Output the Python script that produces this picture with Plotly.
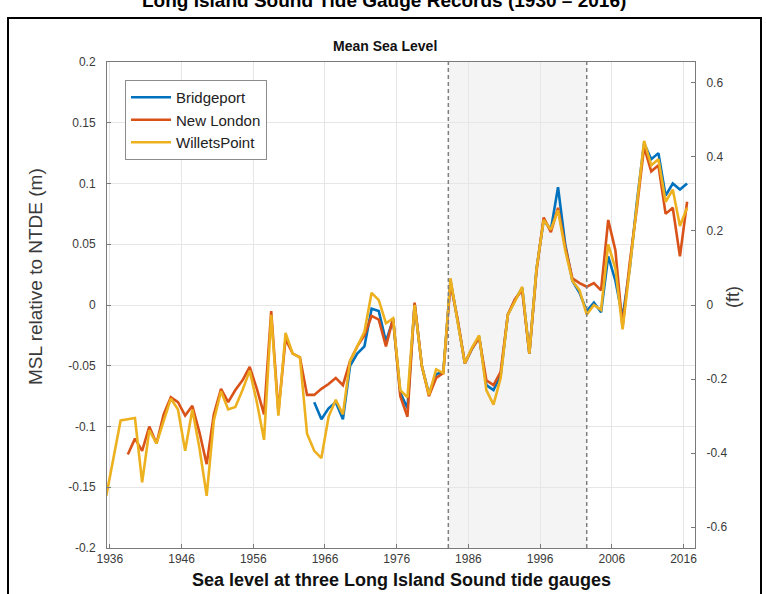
import plotly.graph_objects as go

# ---------------- data (annual mean sea level, m relative to NTDE) ----------------
wp_years = list(range(1935, 2017))
wp_msl = [-0.157, -0.125, -0.095, -0.094, -0.093, -0.146, -0.103, -0.114, -0.095, -0.077,
          -0.086, -0.120, -0.086, -0.118, -0.157, -0.095, -0.071, -0.086, -0.084, -0.070,
          -0.054, -0.080, -0.111, -0.008, -0.091, -0.023, -0.040, -0.043, -0.106, -0.120,
          -0.126, -0.092, -0.078, -0.090, -0.046, -0.034, -0.022, 0.010, 0.004, -0.015,
          -0.011, -0.070, -0.076, 0.000, -0.050, -0.074, -0.053, -0.056, 0.022, -0.014,
          -0.048, -0.035, -0.025, -0.070, -0.082, -0.060, -0.008, 0.003, 0.015, -0.040,
          0.030, 0.070, 0.062, 0.078, 0.045, 0.020, 0.012, -0.008, 0.000, -0.004,
          0.050, 0.030, -0.020, 0.030, 0.080, 0.135, 0.115, 0.120, 0.085, 0.095,
          0.065, 0.080]

nl_years = list(range(1938, 2017))
nl_msl = [-0.123, -0.110, -0.120, -0.100, -0.114, -0.090, -0.076, -0.080, -0.091, -0.083,
          -0.105, -0.131, -0.090, -0.069, -0.080, -0.070, -0.062, -0.051, -0.069, -0.090,
          -0.005, -0.088, -0.028, -0.040, -0.043, -0.074, -0.074, -0.069, -0.065, -0.060,
          -0.066, -0.046, -0.034, -0.025, -0.009, -0.012, -0.034, -0.011, -0.075, -0.092,
          0.002, -0.050, -0.075, -0.060, -0.056, 0.018, -0.012, -0.048, -0.036, -0.027,
          -0.062, -0.066, -0.055, -0.008, 0.005, 0.012, -0.040, 0.028, 0.072, 0.060,
          0.080, 0.048, 0.022, 0.018, 0.015, 0.018, 0.012, 0.070, 0.045, -0.018,
          0.035, 0.080, 0.130, 0.110, 0.115, 0.075, 0.080, 0.040, 0.085]

bp_years = list(range(1964, 2017))
bp_msl = [-0.080, -0.094, -0.085, -0.080, -0.094, -0.050, -0.040, -0.034, -0.003, -0.005,
          -0.030, -0.012, -0.072, -0.085, 0.001, -0.050, -0.073, -0.057, -0.055, 0.020,
          -0.013, -0.048, -0.036, -0.026, -0.066, -0.070, -0.058, -0.008, 0.004, 0.014,
          -0.040, 0.030, 0.070, 0.062, 0.097, 0.050, 0.020, 0.010, -0.005, 0.002,
          -0.006, 0.040, 0.020, -0.010, 0.030, 0.085, 0.133, 0.120, 0.125, 0.090,
          0.100, 0.095, 0.100]

series_names = ["Bridgeport", "New London", "WilletsPoint"]
series_colors = ["#0072BD", "#D95319", "#EDB120"]

ntde_start, ntde_end = 1983.2, 2002.5

x_ticks = [1936, 1946, 1956, 1966, 1976, 1986, 1996, 2006, 2016]
y_ticks = [-0.2, -0.15, -0.1, -0.05, 0, 0.05, 0.1, 0.15, 0.2]
y_ticktext = ["-0.2", "-0.15", "-0.1", "-0.05", "0", "0.05", "0.1", "0.15", "0.2"]
ft_ticks = [-0.6, -0.4, -0.2, 0, 0.2, 0.4, 0.6]
ft_ticktext = ["-0.6", "-0.4", "-0.2", "0", "0.2", "0.4", "0.6"]
M_TO_FT = 3.28084

# ---------------- figure ----------------
W, H = 766, 594
L, R, T, B = 107, 695, 62, 548
FONT = "Liberation Sans"
TXT = "#3a3a3a"


def px(x):
    return (x - L) / (R - L)


def py(y):
    return (B - y) / (B - T)


fig = go.Figure()

for yrs, vals, name, col in zip([bp_years, nl_years, wp_years],
                                [bp_msl, nl_msl, wp_msl],
                                series_names, series_colors):
    fig.add_trace(go.Scatter(x=[yv + 0.5 for yv in yrs], y=vals, mode="lines",
                             name=name, line=dict(color=col, width=2.6)))

# invisible trace to activate the right-hand (feet) axis
fig.add_trace(go.Scatter(x=[wp_years[0] + 0.5], y=[wp_msl[0] * M_TO_FT], yaxis="y2",
                         mode="lines", line=dict(width=0), showlegend=False,
                         hoverinfo="skip", opacity=0))

shapes = [
    dict(type="rect", xref="x", yref="paper", x0=ntde_start, x1=ntde_end, y0=0, y1=1,
         fillcolor="rgba(200,200,200,0.2)", line=dict(width=0), layer="below"),
    dict(type="line", xref="x", yref="paper", x0=ntde_start, x1=ntde_start, y0=0, y1=1,
         line=dict(color="#808080", width=1.5, dash="4px,3px")),
    dict(type="line", xref="x", yref="paper", x0=ntde_end, x1=ntde_end, y0=0, y1=1,
         line=dict(color="#808080", width=1.5, dash="4px,3px")),
    # outer black frame of the picture
    dict(type="rect", xref="paper", yref="paper", x0=px(8), x1=px(761), y0=py(640), y1=py(18),
         line=dict(color="black", width=2), fillcolor="rgba(0,0,0,0)"),
]

annotations = [
    dict(text="<b>Long Island Sound Tide Gauge Records (1930 – 2016)</b>", xref="paper",
         yref="paper", x=px(384), y=py(1), xanchor="center", yanchor="middle",
         showarrow=False, font=dict(family="Liberation Sans", size=19, color="#000000")),
    dict(text="<b>Mean Sea Level</b>", xref="paper", yref="paper", x=px(385), y=py(46),
         xanchor="center", yanchor="middle", showarrow=False,
         font=dict(family=FONT, size=14, color="#111111")),
    dict(text="<b>Sea level at three Long Island Sound tide gauges</b>", xref="paper",
         yref="paper", x=0.5, y=py(580), xanchor="center", yanchor="middle",
         showarrow=False, font=dict(family=FONT, size=18, color="#111111")),
    dict(text="MSL relative to NTDE (m)", xref="paper", yref="paper", x=px(35), y=py(277),
         xanchor="center", yanchor="middle", textangle=-90, showarrow=False,
         font=dict(family=FONT, size=19, color=TXT)),
    dict(text="(ft)", xref="paper", yref="paper", x=px(733), y=py(297),
         xanchor="center", yanchor="middle", textangle=-90, showarrow=False,
         font=dict(family=FONT, size=18, color=TXT)),
]

fig.update_layout(
    width=W, height=H,
    margin=dict(l=L, r=W - R, t=T, b=H - B, pad=0),
    paper_bgcolor="white", plot_bgcolor="white",
    showlegend=True,
    legend=dict(x=px(125), y=py(80), xanchor="left", yanchor="top",
                bgcolor="white", bordercolor="#8c8c8c", borderwidth=1,
                font=dict(family=FONT, size=15, color="#222222"),
                tracegroupgap=0, itemwidth=40),
    xaxis=dict(range=[1935.6, 2017.6], tickmode="array", tickvals=x_ticks,
               showgrid=True, gridcolor="#e6e6e6", gridwidth=1, zeroline=False,
               showline=True, linecolor="#7a7a7a", linewidth=1, mirror=True,
               ticks="inside", ticklen=4, tickcolor="#7a7a7a",
               tickfont=dict(family=FONT, size=12, color=TXT)),
    yaxis=dict(range=[-0.2, 0.2], tickmode="array", tickvals=y_ticks, ticktext=y_ticktext,
               showgrid=True, gridcolor="#e6e6e6", gridwidth=1, zeroline=False,
               showline=True, linecolor="#7a7a7a", linewidth=1, mirror=True,
               ticks="inside", ticklen=4, tickcolor="#7a7a7a", ticklabelstandoff=8,
               tickfont=dict(family=FONT, size=12, color=TXT)),
    yaxis2=dict(range=[-0.2 * M_TO_FT, 0.2 * M_TO_FT], overlaying="y", side="right",
                tickmode="array", tickvals=ft_ticks, ticktext=ft_ticktext,
                showgrid=False, zeroline=False, showline=True, linecolor="#7a7a7a",
                ticks="inside", ticklen=4, tickcolor="#7a7a7a", ticklabelstandoff=8,
                tickfont=dict(family=FONT, size=12, color=TXT)),
    shapes=shapes,
    annotations=annotations,
)

fig.write_html("out.html", config={"displayModeBar": False},
               post_script="document.body.style.margin='0px';")
